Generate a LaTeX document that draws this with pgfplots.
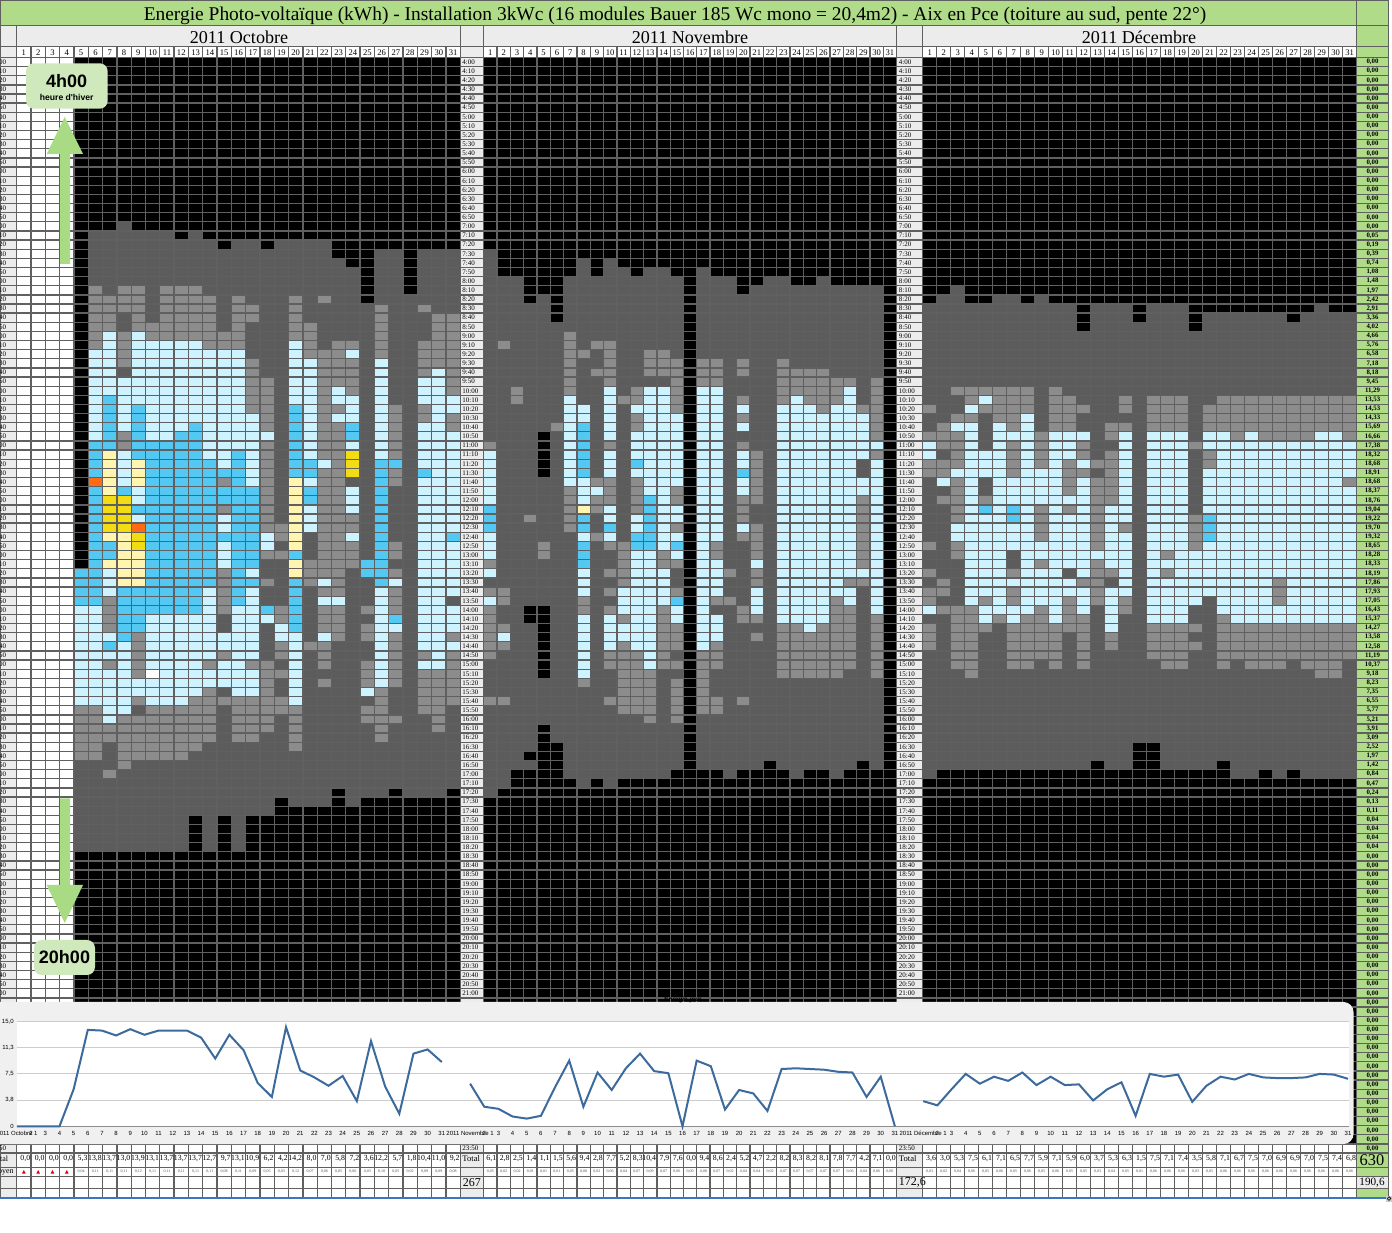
\documentclass[border=0pt]{standalone}
\usepackage{fontspec}
\usepackage{pgfplots}
\usepackage{pgfplotstable}
\pgfplotsset{compat=1.18}
\setmainfont{Liberation Serif}
\newfontfamily\chartsans{Liberation Sans}
\definecolor{cD}{HTML}{5C5C5C}
\definecolor{cM}{HTML}{8C8C8C}
\definecolor{cL}{HTML}{CCF3FF}
\definecolor{cC}{HTML}{52C8F2}
\definecolor{cY}{HTML}{FFF5B0}
\definecolor{cG}{HTML}{F2DC14}
\definecolor{cO}{HTML}{FF6A13}
\definecolor{cGreen}{HTML}{B0DC8A}
\definecolor{cPane}{HTML}{ECECEC}
\definecolor{cLine}{HTML}{606060}
\definecolor{cArrow}{HTML}{A9DB84}
\definecolor{cBox}{HTML}{CFE8BC}
\definecolor{cChart}{HTML}{3C6A9C}
\definecolor{cBlue}{HTML}{3D74C4}
\definecolor{cPanel}{HTML}{F0F0F0}
% column runs of production: day, first row, number of rows
\pgfplotstableread{
d r n
5 56 31
6 19 68
7 19 68
8 18 69
9 19 68
10 19 68
11 19 68
12 20 67
13 19 64
14 20 67
15 21 62
16 20 67
17 20 63
18 21 62
19 20 61
20 20 62
21 20 62
22 20 62
23 22 58
24 23 59
25 27 54
26 21 60
27 21 59
28 26 55
29 21 60
30 21 60
31 21 59
}\octD
\pgfplotstableread{
d r n
1 21 60
2 24 56
3 24 54
4 27 33
4 62 14
4 77 1
5 26 15
5 46 14
5 68 5
6 29 46
7 24 55
8 22 58
9 24 55
10 22 58
11 23 56
12 24 55
13 23 56
14 23 56
15 24 54
17 23 55
18 24 54
19 24 55
20 26 52
21 25 53
22 24 53
23 24 54
24 25 54
25 25 53
26 24 54
27 25 54
28 25 53
29 25 52
30 25 53
}\novD
\pgfplotstableread{
d r n
1 27 52
2 26 52
3 25 53
4 27 51
5 27 51
6 26 52
7 26 52
8 27 51
9 26 52
10 27 51
11 27 51
12 30 48
13 27 50
14 27 51
15 27 51
16 29 46
17 27 48
18 27 51
19 27 51
20 30 48
21 28 50
22 28 49
23 28 51
24 28 51
25 28 50
26 28 51
27 29 49
28 28 51
29 27 52
30 28 51
31 28 51
}\decD
% row runs: row, first day, number of days
\pgfplotstableread{
r d n
25 6 1
25 8 2
25 11 3
26 6 4
26 11 4
26 16 1
26 20 1
26 22 1
27 6 4
27 11 4
27 16 2
27 20 1
27 26 1
27 29 1
28 6 2
28 9 1
28 11 4
28 16 2
28 20 1
28 26 1
28 30 2
29 6 2
29 9 6
29 16 1
29 20 2
29 26 1
29 30 2
30 6 1
30 8 1
30 10 7
30 20 2
30 26 1
30 30 2
31 6 1
31 8 1
31 14 3
31 21 1
31 23 2
31 26 1
31 29 3
32 8 1
32 21 3
32 26 1
32 29 3
33 8 1
33 17 1
33 22 3
33 29 3
34 17 1
34 22 3
34 29 1
34 31 1
35 17 2
35 22 3
35 31 1
36 17 2
36 22 1
36 24 1
36 31 1
37 17 2
37 22 1
38 17 2
38 22 2
38 27 1
38 29 1
39 18 1
39 22 1
39 27 1
39 29 1
39 31 1
40 18 1
40 22 2
40 27 1
40 31 1
41 8 1
41 22 2
41 27 1
42 8 1
42 18 1
42 22 2
42 27 1
43 18 1
43 22 2
43 27 1
44 18 1
44 23 1
45 18 1
45 22 2
45 27 1
46 15 1
46 18 1
46 22 2
46 27 1
47 18 1
47 22 2
48 18 1
48 22 2
49 15 1
49 18 1
49 22 2
50 18 1
50 22 3
51 18 2
51 22 3
52 19 1
52 22 2
53 22 3
53 27 1
54 18 2
54 22 3
54 27 1
55 21 4
56 15 1
56 21 3
56 27 1
57 15 1
57 18 1
57 21 1
57 23 1
58 15 1
58 22 2
58 27 1
59 7 1
59 15 1
59 27 1
60 7 1
60 15 1
60 19 1
60 22 2
60 25 1
60 27 1
61 7 1
61 19 1
61 22 2
62 7 1
62 22 2
62 25 1
63 9 1
63 23 1
63 25 1
63 27 1
63 31 1
64 9 1
64 19 1
64 21 2
64 27 1
65 9 1
65 15 1
65 19 1
65 22 1
65 27 1
65 29 1
65 31 1
66 7 1
66 9 1
66 14 1
66 17 2
66 22 1
66 25 1
66 27 1
66 31 1
67 9 1
67 18 2
67 25 1
67 27 1
67 29 3
68 18 1
68 22 1
68 25 1
68 27 1
68 29 3
69 14 1
69 18 1
69 26 1
69 29 3
70 9 1
70 13 7
70 26 1
70 29 3
71 5 2
71 10 5
71 16 5
71 25 2
71 29 2
72 5 2
72 8 7
72 16 3
72 20 1
72 25 3
72 30 1
73 5 10
73 16 3
73 20 1
73 26 1
73 30 1
74 5 10
74 16 2
74 20 1
74 26 1
75 5 2
75 8 6
75 20 1
76 5 2
76 8 5
77 8 1
78 7 1
}\octM
\pgfplotstableread{
r d n
30 7 1
30 9 1
31 7 1
31 9 5
31 20 1
32 6 2
32 9 8
32 20 1
32 24 1
33 6 2
33 9 8
33 20 2
33 26 1
34 6 2
34 9 8
34 20 2
34 26 1
34 30 1
35 6 11
35 20 2
35 26 1
35 29 2
36 6 11
36 20 2
36 23 1
36 26 1
36 29 2
37 6 1
37 8 9
37 20 2
37 23 2
37 26 1
37 29 3
38 6 1
38 8 1
38 10 7
38 21 1
38 24 1
38 26 1
38 30 2
39 6 1
39 8 1
39 10 8
39 21 1
39 23 2
39 26 1
39 30 1
40 6 1
40 8 1
40 10 3
40 14 4
40 21 1
40 26 1
40 29 2
41 6 1
41 10 2
41 14 5
41 21 1
41 26 1
41 29 3
42 14 4
42 21 1
42 24 1
42 26 1
42 29 3
43 8 1
43 14 2
43 17 1
43 21 1
43 26 1
43 29 3
44 8 1
44 15 1
44 17 1
44 22 1
44 29 3
45 8 1
45 17 1
45 30 2
46 8 1
46 17 1
46 21 1
46 29 3
47 9 1
47 24 1
47 29 3
48 9 1
48 24 1
48 29 3
49 21 1
49 24 1
49 29 3
50 9 1
50 15 1
50 21 1
50 29 3
51 15 1
51 21 1
51 29 3
52 18 1
52 24 1
52 29 2
53 15 1
53 18 1
53 29 3
54 15 1
54 29 3
55 15 1
55 29 3
56 7 1
56 17 1
56 29 3
57 7 1
57 22 1
57 27 1
57 29 3
58 7 1
58 14 1
58 17 1
58 26 1
58 29 3
59 14 1
59 17 1
59 22 2
59 26 1
59 29 2
60 5 2
60 14 1
60 16 2
60 26 1
60 29 3
61 5 2
61 10 5
61 16 3
61 26 1
61 29 3
62 5 2
62 10 5
62 16 2
62 19 1
62 26 2
62 29 3
63 5 3
63 10 8
63 19 2
63 22 1
63 26 1
63 29 2
64 5 2
64 8 1
64 10 8
64 20 1
64 26 1
64 29 3
65 5 4
65 10 5
65 16 2
65 20 1
65 26 1
65 30 1
66 5 2
66 8 1
66 10 4
66 15 2
66 20 1
66 26 1
66 29 2
67 5 4
67 11 7
67 20 1
67 26 1
68 5 13
68 20 1
68 26 1
69 5 9
69 16 2
69 20 1
69 25 1
70 5 4
70 10 3
70 20 1
71 7 2
72 7 1
}\octL
\pgfplotstableread{
r d n
37 7 1
38 7 1
38 9 1
38 20 1
39 7 1
39 9 1
39 20 1
40 7 1
40 9 1
40 13 1
40 20 1
40 24 1
41 7 1
41 9 1
41 12 2
41 20 1
41 24 1
42 6 2
42 9 5
42 20 1
43 6 1
43 9 5
43 16 1
43 20 1
44 6 1
44 10 5
44 16 1
44 20 2
44 26 2
45 6 1
45 10 7
45 20 2
45 26 1
45 29 1
46 10 5
46 16 1
46 26 1
47 6 1
47 8 1
47 10 8
47 21 1
47 26 1
48 6 1
48 10 8
48 21 1
48 26 1
49 6 1
49 9 6
49 16 2
49 26 1
50 6 1
50 10 5
50 16 2
50 26 1
51 6 1
51 10 5
51 16 2
51 26 1
52 6 1
52 10 8
52 26 1
52 31 1
53 6 2
53 10 5
53 16 2
53 26 1
54 6 2
54 10 5
54 16 2
54 20 1
54 26 1
55 6 1
55 10 5
55 16 2
55 25 2
56 5 2
56 10 5
56 16 1
56 25 2
57 5 2
57 10 5
57 16 2
57 20 1
57 26 1
58 5 2
58 8 6
58 16 1
58 20 1
59 5 2
59 8 6
59 16 1
59 20 1
60 8 6
60 18 1
60 20 1
61 8 2
61 20 1
61 27 1
62 8 2
62 20 1
63 8 1
64 7 1
}\octC
\pgfplotstableread{
r d n
43 7 1
44 7 1
44 9 1
45 7 1
45 9 1
46 7 1
46 9 1
46 20 1
47 7 1
47 20 1
48 20 1
49 20 1
50 20 1
51 20 1
52 7 2
52 20 1
53 8 1
53 20 1
54 8 2
55 7 3
55 20 1
56 8 2
56 20 1
57 8 2
}\octY
\pgfplotstableread{
r d n
43 24 1
44 24 1
45 24 1
48 7 2
49 7 2
50 7 2
51 7 2
52 9 1
53 9 1
}\octG
\pgfplotstableread{
r d n
46 6 1
51 9 1
}\octO
\pgfplotstableread{
r d n
30 7 1
31 2 1
31 7 1
31 9 2
32 7 2
32 10 1
32 13 2
33 7 1
33 10 1
33 13 3
33 17 2
33 20 1
33 23 1
34 7 1
34 9 2
34 13 3
34 17 2
34 20 1
34 23 4
35 7 1
35 10 1
35 15 1
35 17 2
35 23 6
35 30 1
36 3 1
36 7 1
36 12 1
36 15 1
36 23 5
36 30 1
37 3 1
37 11 2
37 15 1
37 20 1
37 23 1
37 25 3
37 30 1
38 15 1
38 26 1
38 29 2
39 12 1
39 20 1
39 30 1
40 6 1
40 12 1
40 30 1
41 30 1
42 1 1
42 10 1
42 20 1
43 21 1
43 30 1
44 21 1
45 21 1
46 9 2
46 12 1
46 21 1
47 7 1
47 10 1
47 12 1
47 15 1
47 21 1
48 7 1
48 9 2
48 12 1
48 15 1
48 20 2
48 29 1
49 7 1
49 9 1
49 12 1
49 20 1
49 29 1
50 4 1
50 7 1
50 20 1
50 29 1
51 7 1
51 15 1
51 21 1
51 29 1
52 9 1
52 20 2
52 29 1
53 5 1
53 10 2
53 18 1
53 21 1
53 29 1
54 5 1
54 11 1
54 14 1
54 18 1
54 21 1
54 29 1
55 1 1
55 11 1
55 14 2
55 29 1
56 10 2
56 19 1
56 21 1
57 11 1
57 21 1
57 28 2
58 1 2
58 10 1
58 15 1
59 2 1
59 8 1
59 18 2
59 27 1
60 1 1
60 8 1
60 10 1
60 14 1
60 20 1
60 27 2
61 1 1
61 11 1
61 14 1
61 20 2
61 27 2
61 30 1
62 1 2
62 14 2
62 23 2
62 26 3
62 30 1
63 1 1
63 14 2
63 21 1
63 23 6
63 30 1
64 1 2
64 11 1
64 14 2
64 18 1
64 23 6
64 30 1
65 1 1
65 10 3
65 14 1
65 17 2
65 23 6
65 30 1
66 10 3
66 14 2
66 17 2
66 23 6
66 30 1
67 11 3
67 17 1
67 23 5
67 30 1
68 8 1
68 11 3
68 15 1
68 17 1
69 11 3
69 15 1
69 17 1
70 1 2
70 10 4
70 15 1
70 17 2
70 20 1
71 11 3
71 15 1
71 17 2
72 13 1
72 15 1
}\novM
\pgfplotstableread{
r d n
36 10 1
36 13 2
36 17 2
36 28 1
37 7 1
37 10 1
37 13 2
37 17 2
37 24 1
37 28 1
38 7 2
38 10 1
38 12 3
38 17 2
38 20 1
38 23 3
38 27 2
39 7 2
39 10 1
39 13 3
39 17 2
39 23 7
40 7 1
40 10 1
40 13 3
40 17 2
40 20 1
40 23 7
41 7 1
41 10 1
41 12 4
41 17 2
41 23 7
42 7 1
42 12 4
42 17 2
42 23 8
43 1 1
43 7 1
43 10 1
43 12 4
43 17 2
43 20 1
43 23 7
44 1 1
44 7 1
44 10 1
44 13 3
44 17 2
44 20 1
44 23 6
44 30 1
45 1 1
45 7 1
45 10 1
45 12 4
45 17 2
45 23 6
45 30 1
46 1 1
46 7 2
46 13 3
46 17 2
46 20 1
46 23 8
47 1 1
47 8 2
47 13 2
47 17 2
47 20 1
47 23 8
48 1 1
48 8 1
48 14 1
48 17 2
48 23 6
48 30 1
49 10 1
49 14 2
49 17 2
49 23 6
49 30 1
50 10 1
50 12 1
50 14 2
50 17 2
50 23 6
50 30 1
51 12 1
51 14 1
51 17 2
51 20 1
51 23 6
51 30 1
52 1 1
52 8 1
52 10 1
52 14 2
52 17 2
52 23 6
52 30 1
53 1 1
53 14 1
53 17 1
53 23 6
53 30 1
54 1 1
54 12 2
54 15 1
54 17 1
54 23 6
54 30 1
55 12 2
55 17 2
55 21 1
55 23 6
55 30 1
56 1 1
56 8 1
56 12 3
56 17 2
56 23 8
57 8 1
57 12 3
57 17 2
57 23 5
57 30 1
58 8 1
58 11 4
58 17 2
58 21 1
58 23 6
58 30 1
59 1 1
59 11 4
59 17 1
59 21 1
59 23 4
59 28 1
59 30 1
60 11 3
60 15 1
60 17 1
60 21 1
60 23 4
60 30 1
61 8 1
61 10 1
61 12 2
61 15 1
61 17 2
61 23 4
62 8 1
62 10 4
62 17 2
62 25 1
63 2 1
63 8 1
63 10 4
63 17 2
64 8 1
64 10 1
64 12 2
64 17 1
65 8 1
65 13 1
66 8 1
66 13 1
67 8 1
}\novL
\pgfplotstableread{
r d n
40 8 1
41 8 1
42 8 1
43 8 1
44 8 1
44 12 1
45 8 1
45 20 1
48 13 1
49 1 1
49 13 1
50 1 1
50 8 1
50 13 1
51 1 1
51 8 1
51 10 1
51 13 1
52 12 2
53 8 1
53 12 2
53 15 1
54 8 1
55 8 1
59 15 1
}\novC
\pgfplotstableread{
r d n
49 8 1
}\novY
\pgfplotstableread{
r d n
36 3 6
36 10 1
37 4 1
37 6 3
37 10 2
38 1 1
38 5 4
38 10 3
39 3 2
39 6 2
39 10 2
40 2 1
40 7 1
40 10 2
41 1 3
41 9 1
42 2 2
42 7 1
42 9 1
42 12 1
43 3 1
43 7 1
43 9 1
43 12 1
44 1 3
44 7 1
44 9 1
44 11 1
44 13 1
45 1 2
45 7 1
45 11 2
46 3 1
46 11 1
46 13 1
47 3 1
47 11 1
47 13 1
48 2 2
48 5 1
48 13 1
49 3 1
49 9 1
49 11 1
49 13 1
50 3 1
50 9 1
50 13 1
51 9 1
51 13 1
52 9 1
52 13 1
53 1 1
53 3 1
53 13 1
54 3 1
55 9 1
55 13 1
56 1 1
56 7 1
56 13 1
57 2 1
57 12 2
58 1 2
58 7 1
58 13 1
59 1 1
59 5 1
59 7 1
59 11 1
59 13 1
60 2 3
60 9 1
60 11 1
61 3 2
61 6 1
61 8 2
61 11 2
62 1 1
62 3 3
62 7 6
63 1 1
63 3 2
63 7 4
63 12 1
64 1 1
64 3 2
64 7 4
64 12 1
65 3 2
65 7 4
65 12 1
66 3 2
66 7 2
66 10 1
66 12 1
67 4 1
}\decM
\pgfplotstableread{
r d n
37 5 1
38 4 1
39 8 1
40 3 2
40 6 1
40 8 1
41 4 1
41 6 3
41 10 3
42 1 1
42 4 1
42 6 1
42 8 1
42 10 2
43 1 1
43 4 3
43 8 1
43 10 2
44 4 3
44 8 1
44 10 1
44 12 1
45 3 4
45 8 3
46 2 1
46 4 1
46 6 5
46 12 1
47 4 1
47 6 5
47 12 1
48 4 1
48 6 7
49 4 1
49 6 1
49 8 1
49 10 1
49 12 1
50 4 3
50 8 1
50 10 3
51 3 6
51 10 3
52 3 6
52 10 3
53 4 9
54 4 3
54 8 6
55 4 3
55 8 1
55 10 3
56 4 3
56 8 3
56 12 1
57 4 8
58 4 3
58 8 5
59 4 1
59 6 1
59 8 3
59 12 1
60 1 1
60 5 4
60 10 1
60 12 1
61 5 1
61 7 1
61 10 1
}\decL
\pgfplotstableread{
r d n
49 5 1
49 7 1
50 7 1
}\decC
% December, days 14-31, as column runs
\pgfplotstableread{
d r n
14 40 2
14 43 6
14 56 1
14 63 2
15 37 2
15 40 1
15 51 1
15 59 2
17 37 4
18 37 4
19 37 4
17 62 4
18 62 5
19 62 5
18 54 1
18 56 1
20 42 1
20 50 4
20 62 1
20 64 1
21 38 3
21 43 2
22 37 4
22 61 6
23 37 4
23 41 1
23 62 4
24 37 4
24 62 5
25 37 5
25 62 5
26 37 5
26 57 3
26 62 5
27 37 5
27 62 4
28 37 5
28 62 5
29 37 4
29 62 6
30 37 4
30 62 6
31 37 5
31 46 1
31 62 4
}\decMc
\pgfplotstableread{
d r n
14 49 7
14 58 5
15 41 10
15 52 7
17 41 21
18 41 13
18 55 1
18 57 5
19 41 21
20 54 6
21 41 2
21 45 5
21 53 6
22 41 20
23 42 20
24 41 21
25 42 20
26 42 15
26 60 2
27 42 20
28 42 20
29 41 21
30 41 21
31 42 4
31 47 15
}\decLc
\pgfplotstableread{
d r n
21 50 3
}\decCc
% plotting commands: table, colour, left edge, cell width
\newcommand{\rowrun}[4]{\addplot[draw=none,mark=none,forget plot,
  error bars/.cd,x dir=plus,x explicit,error mark=none,
  error bar style={draw=#2,solid,line width=4.6pt}]
  table[x expr={#3+#4*(\thisrow{d}-1)},y expr={57.5+9.13*(\thisrow{r}+0.5)},
        x error expr={#4*\thisrow{n}}]{#1};}
\newcommand{\colrun}[4]{\addplot[draw=none,mark=none,forget plot,
  error bars/.cd,y dir=plus,y explicit,error mark=none,
  error bar style={draw=#2,solid,line width=#4*0.5pt}]
  table[x expr={#3+#4*(\thisrow{d}-0.5)},y expr={57.5+9.13*\thisrow{r}},
        y error expr={9.13*\thisrow{n}}]{#1};}
\newcommand{\fs}[1]{\fontsize{#1}{#1}\selectfont}
\begin{document}
\begin{tikzpicture}
\path[use as bounding box,clip] (0,0) rectangle (696pt,616pt);
\begin{scope}[x=0.5pt,y=-0.5pt,shift={(0pt,616pt)}]
  \fill[white] (0,0) rectangle (1392,1232);
  \fill[cGreen] (0,0) rectangle (1388.3,25.3);
  \fill[cGreen] (1356.7,0) rectangle (1388.3,1197.7);
  \fill[cPane] (0,25.3) rectangle (1356.7,46.5);
  \fill[cPane] (0,46.5) rectangle (16.7,1197.7);
  \fill[cPane] (460.3,46.5) rectangle (483.7,1197.7);
  \fill[cPane] (896.7,46.5) rectangle (922.7,1197.7);
  \fill[cPane] (1356.7,1176.3) rectangle (1388.3,1188.6);
  \fill[black] (73.3,57.5) rectangle (460.3,1144);
  \fill[black] (483.7,57.5) rectangle (896.7,1144);
  \fill[black] (922.7,57.5) rectangle (1356.7,1144);
\end{scope}
\begin{axis}[at={(0pt,0pt)},anchor=south west,scale only axis,width=696pt,height=616pt,
  xmin=0,xmax=1392,ymin=0,ymax=1232,y dir=reverse,axis lines=none,clip=false]
  \colrun{\octD}{cD}{16.7}{14.31}
  \colrun{\novD}{cD}{483.7}{13.32}
  \colrun{\decD}{cD}{922.7}{14}
  \rowrun{\octM}{cM}{16.7}{14.31}
  \rowrun{\octL}{cL}{16.7}{14.31}
  \rowrun{\octC}{cC}{16.7}{14.31}
  \rowrun{\octY}{cY}{16.7}{14.31}
  \rowrun{\octG}{cG}{16.7}{14.31}
  \rowrun{\octO}{cO}{16.7}{14.31}
  \rowrun{\novM}{cM}{483.7}{13.32}
  \rowrun{\novL}{cL}{483.7}{13.32}
  \rowrun{\novC}{cC}{483.7}{13.32}
  \rowrun{\novY}{cY}{483.7}{13.32}
  \rowrun{\decM}{cM}{922.7}{14}
  \rowrun{\decL}{cL}{922.7}{14}
  \rowrun{\decC}{cC}{922.7}{14}
  \colrun{\decMc}{cM}{922.7}{14}
  \colrun{\decLc}{cL}{922.7}{14}
  \colrun{\decCc}{cC}{922.7}{14}
\end{axis}
\begin{scope}[x=0.5pt,y=-0.5pt,shift={(0pt,616pt)}]
  % white missing cell
  \fill[white] (145.5,669.2) rectangle (159.8,678.3);
  % grid
  \begin{scope}[cLine,line width=0.65pt]
  \foreach \rr in {0,...,120} {\pgfmathsetmacro\yy{57.5+9.13*\rr}\draw (0,\yy) -- (1388.3,\yy);}
  \foreach \ci in {0,...,31} {
    \pgfmathsetmacro\xa{16.7+14.31*\ci}\pgfmathsetmacro\xb{483.7+13.32*\ci}\pgfmathsetmacro\xc{922.7+14*\ci}
    \draw (\xa,46.5) -- (\xa,1197.7);\draw (\xb,46.5) -- (\xb,1197.7);\draw (\xc,46.5) -- (\xc,1197.7);}
  \draw (0,0.5) -- (1388.3,0.5);
  \draw (0,25.3) -- (1388.3,25.3);
  \draw (0,46.5) -- (1388.3,46.5);
  \draw (0,1167.3) -- (1388.3,1167.3);
  \draw (0,1176.3) -- (1388.3,1176.3);
  \draw (0,1188.6) -- (1388.3,1188.6);
  \draw (16.7,25.3) -- (16.7,46.5);\draw (460.3,25.3) -- (460.3,46.5);\draw (483.7,25.3) -- (483.7,46.5);
  \draw (896.7,25.3) -- (896.7,46.5);\draw (922.7,25.3) -- (922.7,46.5);
  \draw (1356.7,0) -- (1356.7,1197.7);\draw (1388.3,0) -- (1388.3,1197.7);
  \draw (0.5,0) -- (0.5,1197.7);
  \end{scope}
  \draw[cBlue,line width=0.9pt] (0,1198.3) -- (1388.3,1198.3);
  \fill[gray!40] (1386,1196) rectangle (1392,1202);
  \draw[gray!20!black,line width=0.4pt] (1389,1198.6) circle (1.8);
  % titles
  \node[font=\fs{9.72}] at (675,15.5) {Energie Photo-voltaïque (kWh) - Installation 3kWc (16 modules Bauer 185 Wc mono = 20,4m2) - Aix en Pce (toiture au sud, pente 22°)};
  \node[font=\fs{9.05}] at (239,37) {2011 Octobre};
  \node[font=\fs{9.05}] at (690,37) {2011 Novembre};
  \node[font=\fs{9.05}] at (1139,37) {2011 Décembre};
  % day numbers
  \foreach \ci in {1,...,31} {
    \node[font=\fs{4.3},inner sep=0pt] at ({16.7+14.31*(\ci-0.5)},52.3) {\ci};
    \node[font=\fs{4.3},inner sep=0pt] at ({483.7+13.32*(\ci-0.5)},52.3) {\ci};
    \node[font=\fs{4.3},inner sep=0pt] at ({922.7+14*(\ci-0.5)},52.3) {\ci};}
  % time labels
  \foreach \rr in {0,...,102} {
    \pgfmathtruncatemacro\hh{4+int(\rr/6)}
    \pgfmathtruncatemacro\mm{mod(\rr,6)}
    \pgfmathsetmacro\yy{57.5+9.13*(\rr+0.5)}
    \node[font=\fs{3.5},inner sep=0pt,anchor=west] at (462,\yy) {\hh:\mm0};
    \node[font=\fs{3.5},inner sep=0pt,anchor=west] at (898.5,\yy) {\hh:\mm0};
    \node[font=\fs{3.5},inner sep=0pt,anchor=east] at (6.5,\yy) {\mm0};}
  \node[font=\fs{3.5},inner sep=0pt,anchor=west] at (462,1148.5) {23:50};
  \node[font=\fs{3.5},inner sep=0pt,anchor=west] at (898.5,1148.5) {23:50};
  \node[font=\fs{3.5},inner sep=0pt,anchor=east] at (6.5,1148.5) {50};
  % right column
  \foreach \vv [count=\ci from 0] in {{0,00},{0,00},{0,00},{0,00},{0,00},{0,00},{0,00},{0,00},{0,00},{0,00},{0,00},{0,00},{0,00},{0,00},{0,00},{0,00},{0,00},{0,00},{0,00},{0,05},{0,19},{0,39},{0,74},{1,08},{1,48},{1,97},{2,42},{2,91},{3,36},{4,02},{4,66},{5,76},{6,58},{7,18},{8,18},{9,45},{11,29},{13,53},{14,53},{14,33},{15,69},{16,66},{17,38},{18,32},{18,68},{18,91},{18,68},{18,37},{18,76},{19,04},{19,22},{19,70},{19,32},{18,65},{18,28},{18,33},{18,19},{17,86},{17,93},{17,05},{16,43},{15,37},{14,27},{13,58},{12,58},{11,19},{10,37},{9,18},{8,23},{7,35},{6,55},{5,77},{5,21},{3,91},{3,09},{2,52},{1,97},{1,42},{0,84},{0,47},{0,24},{0,13},{0,11},{0,04},{0,04},{0,04},{0,04},{0,00},{0,00},{0,00},{0,00},{0,00},{0,00},{0,00},{0,00},{0,00},{0,00},{0,00},{0,00},{0,00},{0,00},{0,00},{0,00},{0,00},{0,00},{0,00},{0,00},{0,00},{0,00},{0,00},{0,00},{0,00},{0,00},{0,00},{0,00},{0,00},{0,00},{0,00},{0,00},{0,00}} {
    \pgfmathsetmacro\yy{57.5+9.13*(\ci+0.5)}
    \node[font=\fs{3.4}\bfseries,inner sep=0pt] at (1372.5,\yy) {\vv};}
  % bottom rows
  \foreach \vv [count=\ci from 1] in {{0,0},{0,0},{0,0},{0,0},{5,3},{13,8},{13,7},{13,0},{13,9},{13,1},{13,7},{13,7},{13,7},{12,7},{9,7},{13,1},{10,9},{6,2},{4,2},{14,2},{8,0},{7,0},{5,8},{7,2},{3,6},{12,2},{5,7},{1,8},{10,4},{11,0},{9,2}} {
    \node[font=\fs{3.9},inner sep=0pt,anchor=east] at ({16.7+14.31*\ci-0.4},1159) {\vv};}
  \foreach \vv [count=\ci from 1] in {{6,1},{2,8},{2,5},{1,4},{1,1},{1,5},{5,6},{9,4},{2,8},{7,7},{5,2},{8,3},{10,4},{7,9},{7,6},{0,0},{9,4},{8,6},{2,4},{5,2},{4,7},{2,2},{8,2},{8,3},{8,2},{8,1},{7,8},{7,7},{4,2},{7,1},{0,0}} {
    \node[font=\fs{3.9},inner sep=0pt,anchor=east] at ({483.7+13.32*\ci-0.4},1159) {\vv};}
  \foreach \vv [count=\ci from 1] in {{3,6},{3,0},{5,3},{7,5},{6,1},{7,1},{6,5},{7,7},{5,9},{7,1},{5,9},{6,0},{3,7},{5,3},{6,3},{1,5},{7,5},{7,1},{7,4},{3,5},{5,8},{7,1},{6,7},{7,5},{7,0},{6,9},{6,9},{7,0},{7,5},{7,4},{6,8}} {
    \node[font=\fs{3.9},inner sep=0pt,anchor=east] at ({922.7+14*\ci-0.4},1159) {\vv};}
  \foreach \vv [count=\ci from 5] in {{0,04},{0,11},{0,11},{0,11},{0,12},{0,11},{0,11},{0,11},{0,11},{0,11},{0,08},{0,11},{0,09},{0,05},{0,03},{0,12},{0,07},{0,06},{0,05},{0,06},{0,03},{0,10},{0,05},{0,02},{0,09},{0,09},{0,08}} {
    \node[font=\fs{2},inner sep=0pt,text=black!70] at ({16.7+14.31*(\ci-0.5)},1171) {\vv};}
  \foreach \vv [count=\ci from 1] in {{0,05},{0,02},{0,02},{0,01},{0,01},{0,01},{0,05},{0,08},{0,02},{0,06},{0,04},{0,07},{0,09},{0,07},{0,06},{0,00},{0,08},{0,07},{0,02},{0,04},{0,04},{0,02},{0,07},{0,07},{0,07},{0,07},{0,07},{0,06},{0,04},{0,06},{0,00}} {
    \node[font=\fs{2},inner sep=0pt,text=black!70] at ({483.7+13.32*(\ci-0.5)},1171) {\vv};}
  \foreach \vv [count=\ci from 1] in {{0,03},{0,02},{0,04},{0,06},{0,05},{0,06},{0,05},{0,06},{0,05},{0,06},{0,05},{0,05},{0,03},{0,04},{0,05},{0,01},{0,06},{0,06},{0,06},{0,03},{0,05},{0,06},{0,06},{0,06},{0,06},{0,06},{0,06},{0,06},{0,06},{0,06},{0,06}} {
    \node[font=\fs{2},inner sep=0pt,text=black!70] at ({922.7+14*(\ci-0.5)},1171) {\vv};}
  \foreach \ci in {1,2,3,4} {
    \pgfmathsetmacro\xx{16.7+14.31*(\ci-0.5)}
    \fill[red!85!black] (\xx-1.8,1173.5) -- (\xx+1.8,1173.5) -- (\xx,1170) -- cycle;}
  \node[font=\fs{4},inner sep=0pt,anchor=east] at (8.5,1158.5) {otal};
  \node[font=\fs{4},inner sep=0pt,anchor=east] at (14,1172) {oyen};
  \node[font=\fs{4.3},inner sep=0pt,anchor=west] at (462,1158.5) {Total};
  \node[font=\fs{4.3},inner sep=0pt,anchor=west] at (898.5,1158.5) {Total};
  \node[font=\fs{6},inner sep=0pt,anchor=west] at (462.5,1182.5) {267};
  \node[font=\fs{6},inner sep=0pt,anchor=west] at (898.5,1182.5) {172,6};
  \node[font=\fs{5.6},inner sep=0pt] at (1372,1182.5) {190,6};
  \node[font=\fs{8.2},inner sep=0pt] at (1372,1160) {630};
  % arrows and boxes
  \fill[cArrow] (64.7,117) -- (83,154) -- (70,154) -- (70,264) -- (60,264) -- (60,154) -- (46.7,154) -- cycle;
  \fill[cArrow] (64.7,923) -- (83,885) -- (70,885) -- (70,798.5) -- (60,798.5) -- (60,885) -- (46.7,885) -- cycle;
  \fill[cBox,rounded corners=4pt] (26,63.3) rectangle (107.7,108.7);
  \fill[cBox,rounded corners=4pt] (34,940) rectangle (95,975);
  \node[font=\chartsans\fs{9}\bfseries,inner sep=0pt] at (66.7,81) {4h00};
  \node[font=\chartsans\fs{4.3}\bfseries,inner sep=0pt] at (66.7,97) {heure d'hiver};
  \node[font=\chartsans\fs{9}\bfseries,inner sep=0pt] at (64.5,957) {20h00};
  % chart panel
  \fill[cPanel,rounded corners=5pt] (-20,1002) rectangle (1353.5,1144);
\end{scope}
\begin{axis}[at={(8.5pt,52.85pt)},anchor=south west,scale only axis,width=666pt,height=52.4pt,
  xmin=1,xmax=95.07,ymin=0,ymax=15,clip=false,
  axis background/.style={fill=white},
  axis lines*=left,axis line style={-},
  y axis line style={draw=none},x axis line style={draw=black!45},
  major tick length=0pt,
  ytick={0,3.75,7.5,11.25,15},yticklabels={0,{3,8},{7,5},{11,3},{15,0}},
  ymajorgrids,major grid style={draw=black!20,line width=0.5pt},
  xtick={1,2,...,31,33,34,...,63,65,66,...,95},
  xticklabels={{2011 Octobre 1},2,3,4,5,6,7,8,9,10,11,12,13,14,15,16,17,18,19,20,21,22,23,24,25,26,27,28,29,30,31,
    {2011 Novembre 1},2,3,4,5,6,7,8,9,10,11,12,13,14,15,16,17,18,19,20,21,22,23,24,25,26,27,28,29,30,31,
    {2011 Décembre 1},2,3,4,5,6,7,8,9,10,11,12,13,14,15,16,17,18,19,20,21,22,23,24,25,26,27,28,29,30,31},
  tick label style={font=\chartsans\fs{3},inner sep=0pt},
  xticklabel style={yshift=-2.2pt},yticklabel style={xshift=-1.5pt},
  title={\chartsans\fs{3.2}\bfseries Energie jour},
  title style={at={(0.5,1)},anchor=south,yshift=3.2pt,inner sep=0pt},
]
\addplot[cChart,line width=1pt,mark=none] coordinates {(1,0)(2,0)(3,0)(4,0)(5,5.3)(6,13.8)(7,13.7)(8,13.0)(9,13.9)(10,13.1)(11,13.7)(12,13.7)(13,13.7)(14,12.7)(15,9.7)(16,13.1)(17,10.9)(18,6.2)(19,4.2)(20,14.2)(21,8.0)(22,7.0)(23,5.8)(24,7.2)(25,3.6)(26,12.2)(27,5.7)(28,1.8)(29,10.4)(30,11.0)(31,9.2)};
\addplot[cChart,line width=1pt,mark=none] coordinates {(33,6.1)(34,2.8)(35,2.5)(36,1.4)(37,1.1)(38,1.5)(39,5.6)(40,9.4)(41,2.8)(42,7.7)(43,5.2)(44,8.3)(45,10.4)(46,7.9)(47,7.6)(48,0.0)(49,9.4)(50,8.6)(51,2.4)(52,5.2)(53,4.7)(54,2.2)(55,8.2)(56,8.3)(57,8.2)(58,8.1)(59,7.8)(60,7.7)(61,4.2)(62,7.1)(63,0.0)};
\addplot[cChart,line width=1pt,mark=none] coordinates {(65,3.6)(66,3.0)(67,5.3)(68,7.5)(69,6.1)(70,7.1)(71,6.5)(72,7.7)(73,5.9)(74,7.1)(75,5.9)(76,6.0)(77,3.7)(78,5.3)(79,6.3)(80,1.5)(81,7.5)(82,7.1)(83,7.4)(84,3.5)(85,5.8)(86,7.1)(87,6.7)(88,7.5)(89,7.0)(90,6.9)(91,6.9)(92,7.0)(93,7.5)(94,7.4)(95,6.8)};
\end{axis}
\end{tikzpicture}
\end{document}
